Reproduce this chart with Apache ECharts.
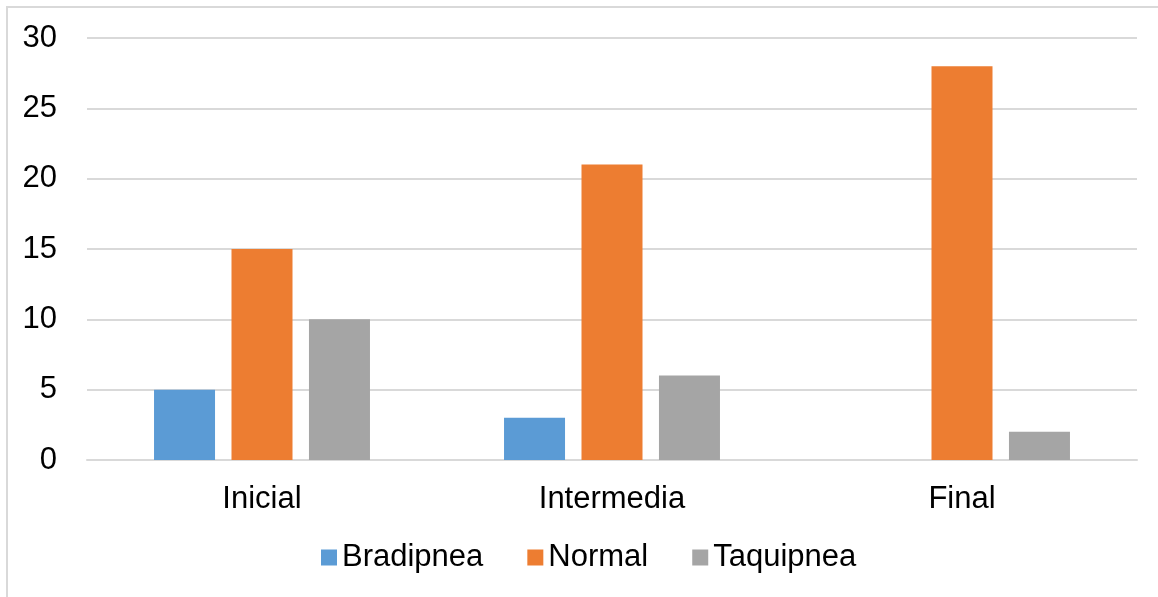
<!DOCTYPE html>
<html>
<head>
<meta charset="utf-8">
<script src="https://cdn.jsdelivr.net/npm/echarts@6/dist/echarts.min.js"></script>
<style>
  html, body { margin: 0; padding: 0; background: #fff; }
  #chart { width: 1158px; height: 597px; }
</style>
</head>
<body>
<div id="chart"></div>
<script>
// Respiratory rate categories per evaluation stage
const categories = ['Inicial', 'Intermedia', 'Final'];
const seriesNames = ['Bradipnea', 'Normal', 'Taquipnea'];
const bradipnea = [5, 3, 0];
const normal = [15, 21, 28];
const taquipnea = [10, 6, 2];
const seriesColors = ['#5B9BD5', '#ED7D31', '#A5A5A5'];

const chart = echarts.init(document.getElementById('chart'));
const font = 'Liberation Sans, Arial, Helvetica, sans-serif';
const values = [bradipnea, normal, taquipnea];

chart.setOption({
  animation: false,
  backgroundColor: '#fff',
  textStyle: { fontFamily: font },
  graphic: [{
    type: 'rect',
    shape: { x: 7, y: 7, width: 1300, height: 800 },
    style: { fill: 'none', stroke: '#D9D9D9', lineWidth: 2 },
    silent: true
  }],
  grid: { left: 87, right: 21, top: 38, bottom: 137, containLabel: false },
  legend: {
    data: seriesNames,
    left: 321,
    top: 542,
    padding: 0,
    itemWidth: 16,
    itemHeight: 16,
    itemGap: 44,
    icon: 'rect',
    textStyle: { fontSize: 31, color: '#000', fontFamily: font }
  },
  xAxis: {
    type: 'category',
    data: categories,
    axisLine: { show: true, lineStyle: { color: '#D9D9D9', width: 2 } },
    axisTick: { show: false },
    axisLabel: { fontSize: 31, color: '#000', margin: 24, fontFamily: font }
  },
  yAxis: {
    type: 'value',
    min: 0,
    max: 30,
    interval: 5,
    axisLine: { show: false },
    axisTick: { show: false },
    axisLabel: { fontSize: 31, color: '#000', margin: 30, fontFamily: font },
    splitLine: { lineStyle: { color: '#D9D9D9', width: 2 } }
  },
  series: seriesNames.map((name, i) => ({
    name: name,
    type: 'bar',
    data: values[i],
    barWidth: 61,
    barGap: '27%',
    itemStyle: { color: seriesColors[i] }
  }))
});
</script>
</body>
</html>
